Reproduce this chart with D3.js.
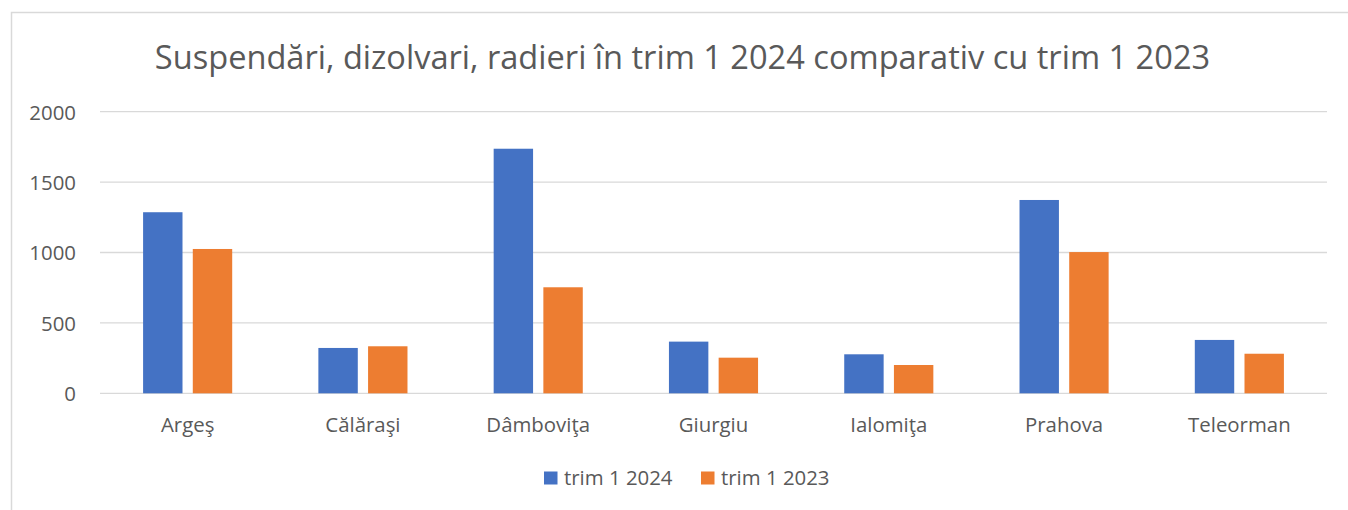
<!DOCTYPE html>
<html><head><meta charset="utf-8">
<script src="https://cdn.jsdelivr.net/npm/d3@7"></script>
<style>body{margin:0;background:#fff;}svg{display:block;font-family:"Open Sans",sans-serif;}</style>
</head><body>
<svg id="c" width="1348" height="510"></svg>
<script>
const title = "Suspendări, dizolvari, radieri în trim 1 2024 comparativ cu trim 1 2023";
const categories = ["Argeş","Călăraşi","Dâmboviţa","Giurgiu","Ialomiţa","Prahova","Teleorman"];
const seriesNames = ["trim 1 2024","trim 1 2023"];
const values2024 = [1286, 322, 1737, 367, 277, 1373, 379];
const values2023 = [1025, 334, 753, 253, 201, 1003, 281];
const yTicks = [0, 500, 1000, 1500, 2000];
const colors = ["#4472C4","#ED7D31"];

const svg = d3.select("#c");
const textColor = "#595959";
const fs = 20.4;

// chart border
svg.append("rect").attr("x",11.5).attr("y",12.5).attr("width",1400).attr("height",600)
  .attr("fill","none").attr("stroke","#D9D9D9").attr("stroke-width",1.5);

const x0 = d3.scaleBand().domain(categories).range([100,1327]).padding(0);
const x1 = d3.scaleBand().domain(seriesNames).range([0,x0.bandwidth()]).paddingInner(0.207).paddingOuter(0.867);
const y = d3.scaleLinear().domain([0,2000]).range([393.3,111.7]);

// gridlines
svg.append("g").selectAll("line").data(yTicks).join("line")
  .attr("x1",100).attr("x2",1327).attr("y1",d=>y(d)).attr("y2",d=>y(d))
  .attr("stroke","#D9D9D9").attr("stroke-width",1.3);

// y axis labels
const yAxis = d3.axisLeft(y).tickValues(yTicks).tickSize(0).tickPadding(0).tickFormat(d3.format("d"));
const ya = svg.append("g").attr("transform","translate(76,0)").call(yAxis);
ya.select(".domain").remove();
ya.selectAll("text").attr("fill",textColor).attr("font-size",fs).attr("font-family","Open Sans").attr("dy","0.36em");

// bars
const data = categories.map((c,i)=>({cat:c, vals:[values2024[i], values2023[i]]}));
const g = svg.append("g");
data.forEach(d=>{
  g.selectAll(null).data(seriesNames.map((s,j)=>({s, v:d.vals[j], j}))).join("rect")
    .attr("x",e=>x0(d.cat)+x1(e.s)).attr("width",x1.bandwidth())
    .attr("y",e=>y(e.v)).attr("height",e=>y(0)-y(e.v))
    .attr("fill",e=>colors[e.j]);
});

// x axis labels
const xAxis = d3.axisBottom(x0).tickSize(0).tickPadding(0);
const xa = svg.append("g").attr("transform","translate(0,431.5)").call(xAxis);
xa.select(".domain").remove();
xa.selectAll("text").attr("fill",textColor).attr("font-size",fs).attr("font-family","Open Sans").attr("dy",0);

// title
svg.append("text").attr("x",682.5).attr("y",68.5).attr("text-anchor","middle")
  .attr("fill",textColor).attr("font-size",32.6).text(title);

// legend
const legX = [544, 701];
const lg = svg.append("g");
seriesNames.forEach((s,i)=>{
  lg.append("rect").attr("x",legX[i]).attr("y",471.5).attr("width",13.5).attr("height",13).attr("fill",colors[i]);
  lg.append("text").attr("x",legX[i]+20).attr("y",485.3).attr("fill",textColor).attr("font-size",fs).text(s);
});
</script>
</body></html>
